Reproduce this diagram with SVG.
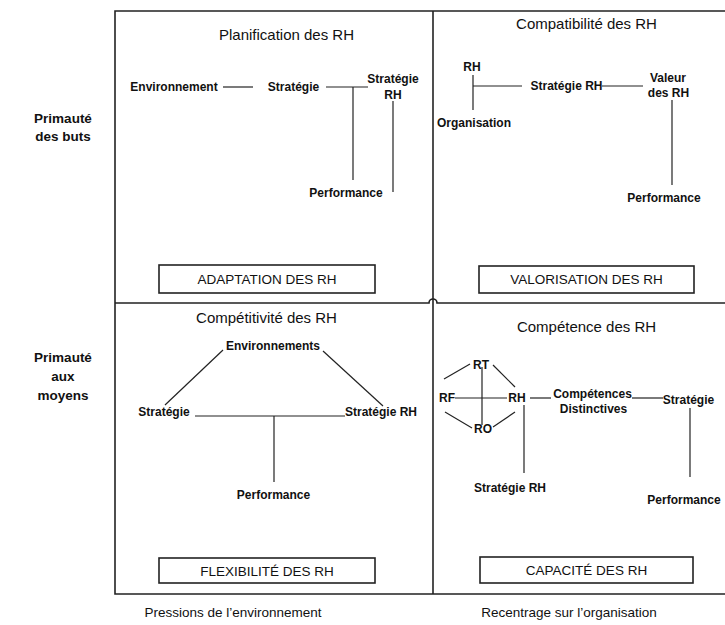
<svg xmlns="http://www.w3.org/2000/svg" width="725" height="625" viewBox="0 0 725 625">
<style>
text{font-family:"Liberation Sans",Arial,sans-serif;fill:#111;text-anchor:middle}
.t{font-size:15px}
.l{font-size:12px;font-weight:bold}
.s{font-size:13.5px;font-weight:bold}
.b{font-size:13.5px}
.ax{font-size:13.5px}
.frame{fill:none;stroke:#222;stroke-width:1.6}
.box{fill:#fff;stroke:#222;stroke-width:1.6}
.c line{stroke:#222;stroke-width:1.2}
</style>
<rect width="725" height="625" fill="#fff"/>
<g id="frame">
<path class="frame" d="M725,11 H115 V594 H725"/>
<path class="frame" d="M433,11 V594"/>
<path class="frame" d="M115,303 H429 A4,4 0 0 1 437,303 H725"/>
</g>
<g id="axis-labels">
<text class="s" x="63" y="123">Primauté</text>
<text class="s" x="63" y="141">des buts</text>
<text class="s" x="63" y="362">Primauté</text>
<text class="s" x="63" y="381">aux</text>
<text class="s" x="63" y="400">moyens</text>
<text class="ax" x="233" y="617">Pressions de l’environnement</text>
<text class="ax" x="569" y="617">Recentrage sur l’organisation</text>
</g>
<g id="q1">
<text class="t" x="286.5" y="40">Planification des RH</text>
<g id="q1-environnement"><text class="l" x="174" y="91">Environnement</text></g>
<g id="q1-strategie"><text class="l" x="293.5" y="91">Stratégie</text></g>
<g id="q1-strategie-rh"><text class="l" x="393" y="83">Stratégie</text><text class="l" x="393" y="99">RH</text></g>
<g id="q1-performance"><text class="l" x="346" y="197">Performance</text></g>
<g id="q1-box"><rect class="box" x="159" y="265" width="216" height="28"/><text class="b" x="267" y="284">ADAPTATION DES RH</text></g>
</g>
<g id="q2">
<text class="t" x="586.5" y="29">Compatibilité des RH</text>
<g id="q2-rh"><text class="l" x="472" y="71">RH</text></g>
<g id="q2-organisation"><text class="l" x="474" y="127">Organisation</text></g>
<g id="q2-strategie-rh"><text class="l" x="566.5" y="90">Stratégie RH</text></g>
<g id="q2-valeur"><text class="l" x="668" y="82">Valeur</text><text class="l" x="668.5" y="97">des RH</text></g>
<g id="q2-performance"><text class="l" x="664" y="202">Performance</text></g>
<g id="q2-box"><rect class="box" x="479" y="266" width="215" height="27"/><text class="b" x="586.5" y="284">VALORISATION DES RH</text></g>
</g>
<g id="q3">
<text class="t" x="266.5" y="323">Compétitivité des RH</text>
<g id="q3-environnements"><text class="l" x="273" y="350">Environnements</text></g>
<g id="q3-strategie"><text class="l" x="164" y="416">Stratégie</text></g>
<g id="q3-strategie-rh"><text class="l" x="381" y="416">Stratégie RH</text></g>
<g id="q3-performance"><text class="l" x="273.5" y="499">Performance</text></g>
<g id="q3-box"><rect class="box" x="159" y="558" width="216" height="25"/><text class="b" x="267" y="576">FLEXIBILITÉ DES RH</text></g>
</g>
<g id="q4">
<text class="t" x="586.5" y="332">Compétence des RH</text>
<g id="q4-rt"><text class="l" x="481" y="369">RT</text></g>
<g id="q4-rf"><text class="l" x="447" y="402">RF</text></g>
<g id="q4-rh"><text class="l" x="517" y="402">RH</text></g>
<g id="q4-ro"><text class="l" x="483" y="433">RO</text></g>
<g id="q4-competences"><text class="l" x="592.5" y="398">Compétences</text><text class="l" x="593.5" y="413">Distinctives</text></g>
<g id="q4-strategie"><text class="l" x="688.5" y="404">Stratégie</text></g>
<g id="q4-strategie-rh"><text class="l" x="510" y="492">Stratégie RH</text></g>
<g id="q4-performance"><text class="l" x="684" y="504">Performance</text></g>
<g id="q4-box"><rect class="box" x="480" y="557" width="213" height="26"/><text class="b" x="586.5" y="575">CAPACITÉ DES RH</text></g>
</g>
<g id="connectors" class="c">
<line x1="223" y1="87" x2="253" y2="87"/>
<line x1="326" y1="87" x2="368" y2="87"/>
<line x1="353" y1="87" x2="353" y2="180"/>
<line x1="393" y1="101" x2="393" y2="192"/>
<line x1="473" y1="75" x2="473" y2="110"/>
<line x1="473" y1="86" x2="522" y2="86"/>
<line x1="602" y1="86" x2="643" y2="86"/>
<line x1="672" y1="100" x2="672" y2="185"/>
<line x1="223" y1="350" x2="165" y2="405"/>
<line x1="323" y1="351" x2="383" y2="406"/>
<line x1="195" y1="416" x2="345" y2="416"/>
<line x1="274" y1="416" x2="274" y2="482"/>
<line x1="444" y1="379" x2="470" y2="364"/>
<line x1="493" y1="365" x2="515" y2="387"/>
<line x1="445" y1="412" x2="472" y2="428"/>
<line x1="493" y1="427" x2="515" y2="412"/>
<line x1="455" y1="398" x2="507" y2="398"/>
<line x1="482" y1="367" x2="482" y2="425"/>
<line x1="530" y1="398" x2="551" y2="398"/>
<line x1="632" y1="398" x2="663" y2="398"/>
<line x1="524" y1="405" x2="524" y2="473"/>
<line x1="690" y1="408" x2="690" y2="477"/>
</g>
</svg>
